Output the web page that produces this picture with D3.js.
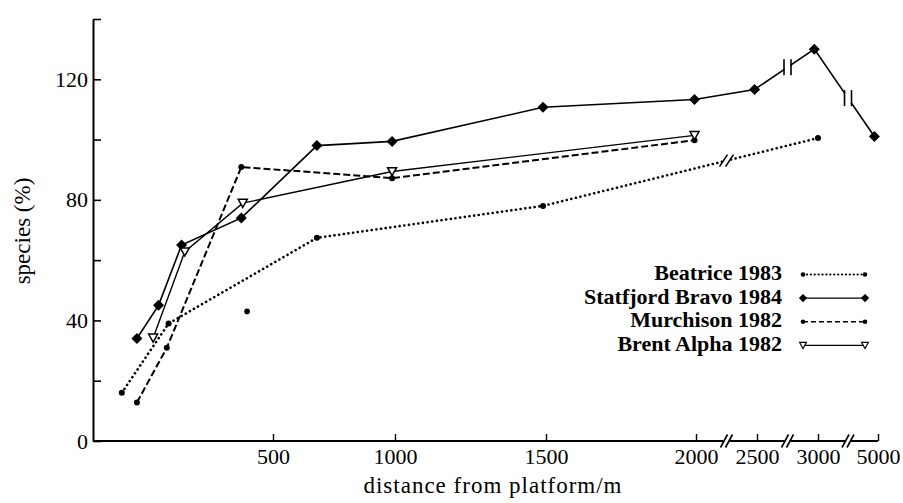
<!DOCTYPE html>
<html>
<head>
<meta charset="utf-8">
<script src="https://cdn.jsdelivr.net/npm/d3@7"></script>
<style>
body { margin: 0; background: #fff; }
text { font-family: "Liberation Serif", "DejaVu Serif", serif; fill: #000; }
</style>
</head>
<body>
<svg id="chart" width="903" height="503"></svg>
<script>
// values (distance in m, species in %)
var beatriceX = [80, 210, 680, 1490, 3000];
var beatriceY = [16, 39, 67.4, 78, 100.5];
var statfjordX = [122, 182, 246, 412, 680, 988, 1490, 1995, 2480, 2970, 4880];
var statfjordY = [34, 45, 65, 74, 98, 99.4, 110.7, 113.3, 116.6, 130, 101];
var murchisonX = [122, 205, 412, 988, 1995];
var murchisonY = [12.8, 30.9, 90.9, 87.2, 99.8];
var brentX = [167, 255, 416, 988, 1995];
var brentY = [34.2, 62.8, 78.9, 89.4, 101.4];
var strayX = [428];
var strayY = [43];

var legendLabels = ["Beatrice 1983", "Statfjord Bravo 1984", "Murchison 1982", "Brent Alpha 1982"];
var xTicks = [500, 1000, 1500, 2000, 2500, 3000, 5000];
var yTicks = [0, 20, 40, 60, 80, 100, 120, 140];
var yLabelled = [0, 40, 80, 120];
var axisBreaks = [2250, 2750, 4000];

var svg = d3.select("#chart");

// broken, uneven axis as drawn in the figure
var x = d3.scaleLinear()
    .domain([0, 500, 1000, 1500, 2000, 2500, 3000, 5000])
    .range([93, 273, 395, 546, 696, 757, 818, 878]);
var y = d3.scaleLinear().domain([0, 140]).range([441, 19]);

function zipXY(xs, ys) { return xs.map(function (v, i) { return [v, ys[i]]; }); }

var series = [
    { name: legendLabels[0], pts: zipXY(beatriceX, beatriceY), dash: "0.1,4.6", width: 2.6, cap: "round", marker: "dot", r: 3 },
    { name: legendLabels[1], pts: zipXY(statfjordX, statfjordY), dash: null, width: 1.6, cap: "butt", marker: "diamond" },
    { name: legendLabels[2], pts: zipXY(murchisonX, murchisonY), dash: "7,3", width: 2, cap: "butt", marker: "dot", r: 3 },
    { name: legendLabels[3], pts: zipXY(brentX, brentY), dash: null, width: 1.4, cap: "butt", marker: "triangle" }
];

var line = d3.line().x(function (d) { return x(d[0]); }).y(function (d) { return y(d[1]); });

// axes
var yAxis = d3.axisLeft(y).tickValues(yTicks).tickSize(-8).tickPadding(5).tickSizeOuter(0)
    .tickFormat(function (d) { return yLabelled.indexOf(d) >= 0 ? d : ""; });
var gy = svg.append("g").attr("class", "yAxis").attr("transform", "translate(" + x(0) + ",0)").call(yAxis);
gy.select(".domain").attr("stroke-width", 2);
gy.selectAll(".tick line").attr("stroke-width", 1.6);
gy.selectAll("text").style("font-size", "22px");

var xAxis = d3.axisBottom(x).tickValues(xTicks).tickSize(-7).tickPadding(7).tickSizeOuter(0)
    .tickFormat(d3.format("d"));
var gx = svg.append("g").attr("class", "xAxis").attr("transform", "translate(0," + y(0) + ")").call(xAxis);
gx.select(".domain").remove();
gx.selectAll(".tick line").attr("stroke-width", 1.4);
gx.selectAll("text").style("font-size", "22px");

var edges = [0].concat(axisBreaks).concat([5000]);
for (var i = 0; i < edges.length - 1; i++) {
    var x0 = x(edges[i]) + (i > 0 ? 3 : 0);
    var x1 = x(edges[i + 1]) - (i < edges.length - 2 ? 3 : 0);
    svg.append("line").attr("x1", x0).attr("x2", x1).attr("y1", y(0)).attr("y2", y(0))
        .attr("stroke", "#000").attr("stroke-width", 2);
}

function slashes(cx, cy, h, w, sep) {
    [-sep / 2, sep / 2].forEach(function (o) {
        svg.append("line")
            .attr("x1", cx + o - w / 2).attr("y1", cy + h / 2)
            .attr("x2", cx + o + w / 2).attr("y2", cy - h / 2)
            .attr("stroke", "#000").attr("stroke-width", 1.6);
    });
}
axisBreaks.forEach(function (b) { slashes(x(b), y(0), 13, 7, 5); });

// lines
series.forEach(function (s) {
    svg.append("path").datum(s.pts).attr("d", line)
        .attr("fill", "none").attr("stroke", "#000")
        .attr("stroke-width", s.width)
        .attr("stroke-linecap", s.cap)
        .attr("stroke-dasharray", s.dash);
});

// breaks on the data lines
function pointOnSeries(pts, xv) {
    for (var i = 0; i < pts.length - 1; i++) {
        if (pts[i][0] <= xv && pts[i + 1][0] >= xv) {
            var px0 = x(pts[i][0]), px1 = x(pts[i + 1][0]);
            var t = (x(xv) - px0) / (px1 - px0);
            return [x(xv), y(pts[i][1]) + t * (y(pts[i + 1][1]) - y(pts[i][1]))];
        }
    }
    return null;
}
function lineBreak(s, xv, kind) {
    var p = pointOnSeries(s.pts, xv);
    if (!p) return;
    svg.append("rect").attr("x", p[0] - 3).attr("y", p[1] - 5).attr("width", 6).attr("height", 10)
        .attr("fill", "#fff");
    if (kind === "bars") {
        [-3.5, 3.5].forEach(function (o) {
            svg.append("line").attr("x1", p[0] + o).attr("x2", p[0] + o)
                .attr("y1", p[1] - 8).attr("y2", p[1] + 8)
                .attr("stroke", "#000").attr("stroke-width", 1.6);
        });
    } else {
        slashes(p[0], p[1], 12, 8, 6);
    }
}
lineBreak(series[1], 2750, "bars");
lineBreak(series[1], 4000, "bars");
lineBreak(series[0], 2250, "slash");

// markers
var diamond = "M0,-5.5L5.5,0L0,5.5L-5.5,0Z";
var triangle = "M-4.5,-3.8L4.5,-3.8L0,4.2Z";
function marker(g, kind, px, py, r) {
    if (kind === "dot") {
        g.append("circle").attr("cx", px).attr("cy", py).attr("r", r).attr("fill", "#000");
    } else if (kind === "diamond") {
        g.append("path").attr("d", diamond).attr("transform", "translate(" + px + "," + py + ")").attr("fill", "#000");
    } else {
        g.append("path").attr("d", triangle).attr("transform", "translate(" + px + "," + py + ")")
            .attr("fill", "#fff").attr("stroke", "#000").attr("stroke-width", 1.5);
    }
}
var gm = svg.append("g").attr("class", "markers");
series.forEach(function (s) {
    s.pts.forEach(function (d) { marker(gm, s.marker, x(d[0]), y(d[1]), s.r); });
});
zipXY(strayX, strayY).forEach(function (d) { marker(gm, "dot", x(d[0]), y(d[1]), 2.8); });

// legend
var lg = svg.append("g").attr("class", "legend");
series.forEach(function (s, i) {
    var ty = 280 + i * 23.6;
    lg.append("text").attr("x", 782).attr("y", ty).attr("text-anchor", "end")
        .style("font-size", "22px").style("font-weight", "bold").text(s.name);
    lg.append("line").attr("x1", 803).attr("x2", 865).attr("y1", ty - 5.5).attr("y2", ty - 5.5)
        .attr("stroke", "#000").attr("stroke-width", s.dash === "7,3" ? 1.5 : (s.dash ? 2.2 : 1.3))
        .attr("stroke-linecap", s.cap)
        .attr("stroke-dasharray", s.dash === "7,3" ? "5,3" : (s.dash ? "0.1,3.8" : null));
    [803, 865].forEach(function (lx) {
        if (s.marker === "dot") {
            marker(lg, "dot", lx, ty - 5.5, 2.3);
        } else {
            lg.append("path").attr("d", s.marker === "diamond" ? diamond : triangle)
                .attr("transform", "translate(" + lx + "," + (ty - 5.5) + ") scale(0.75)")
                .attr("fill", s.marker === "diamond" ? "#000" : "#fff")
                .attr("stroke", s.marker === "diamond" ? "none" : "#000")
                .attr("stroke-width", 1.6);
        }
    });
});

// axis titles
svg.append("text").attr("x", 493).attr("y", 493).attr("text-anchor", "middle")
    .style("font-size", "23px").style("letter-spacing", "1px").text("distance from platform/m");
svg.append("text").attr("transform", "translate(30,231) rotate(-90)").attr("text-anchor", "middle")
    .style("font-size", "23px").text("species (%)");
</script>
</body>
</html>
